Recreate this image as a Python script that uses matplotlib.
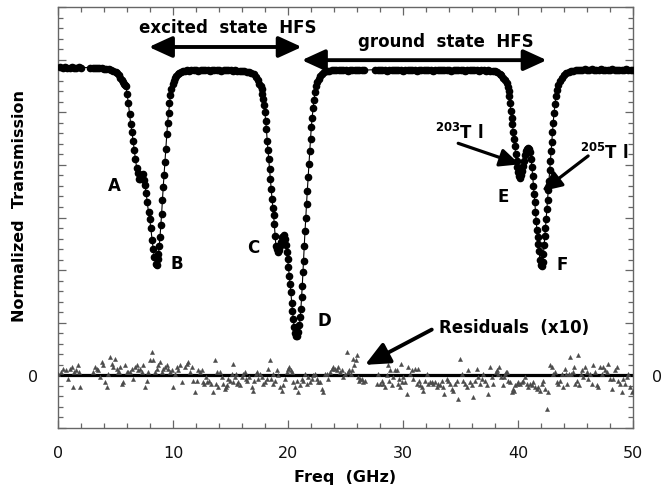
import numpy as np
import matplotlib
matplotlib.use('Agg')
import matplotlib.pyplot as plt
from matplotlib.ticker import MultipleLocator, FuncFormatter

plt.rcParams['font.family'] = ['DejaVu Sans']
plt.rcParams['mathtext.fontset'] = 'dejavusans'

###############################################################################
# Transmission data (freq in GHz, normalized transmission in plot units)
###############################################################################
f_base1 = [0.2, 0.4, 0.6, 0.8, 1.0, 1.2, 1.4, 1.6, 1.8, 2.0,
           2.8, 3.0, 3.2, 3.4, 3.6]
t_base1 = [5.86, 5.85, 5.86, 5.85, 5.84, 5.86, 5.85, 5.84, 5.86, 5.85,
           5.85, 5.84, 5.85, 5.84, 5.84]

f_dip1 = [3.8, 4.0, 4.2, 4.4, 4.6, 4.8, 5.0, 5.15, 5.3, 5.42, 5.54, 5.65, 5.75, 5.83,
          5.91, 6.01, 6.12, 6.22, 6.32, 6.43, 6.53, 6.63, 6.73, 6.84,
          6.94, 7.04, 7.15, 7.25, 7.35, 7.46, 7.56, 7.66, 7.76, 7.87,
          7.97, 8.07, 8.18, 8.28, 8.38, 8.49, 8.58,
          8.66, 8.73, 8.80, 8.87, 8.94, 9.01, 9.08, 9.15, 9.22, 9.29,
          9.37, 9.45, 9.53, 9.61, 9.69, 9.77, 9.86, 9.96, 10.07, 10.18,
          10.30, 10.42, 10.55, 10.70, 10.85, 11.0]
t_dip1 = [5.84, 5.83, 5.83, 5.82, 5.81, 5.79, 5.77, 5.74, 5.70, 5.65, 5.61, 5.57, 5.54, 5.51,
          5.49, 5.34, 5.17, 4.97, 4.78, 4.63, 4.46, 4.28, 4.11, 3.95,
          3.84, 3.74, 3.73, 3.79, 3.82, 3.71, 3.62, 3.47, 3.29, 3.10,
          2.98, 2.80, 2.58, 2.40, 2.25, 2.12, 2.09,
          2.22, 2.30, 2.45, 2.63, 2.85, 3.07, 3.33, 3.58, 3.81, 4.05,
          4.30, 4.58, 4.80, 4.98, 5.17, 5.32, 5.45, 5.54, 5.60, 5.65,
          5.69, 5.72, 5.75, 5.77, 5.79, 5.79]

f_base2 = np.round(np.arange(11.2, 16.41, 0.2), 2)
t_base2 = [5.80, 5.79, 5.80, 5.81, 5.80, 5.79, 5.80, 5.80, 5.81, 5.80,
           5.79, 5.80, 5.81, 5.80, 5.80, 5.79, 5.80, 5.81, 5.80, 5.80,
           5.79, 5.80, 5.79, 5.79, 5.78, 5.78, 5.77]

f_dip2 = [16.6, 16.8, 17.0, 17.2, 17.35, 17.5, 17.62,
          17.71, 17.78, 17.85, 17.92, 17.99, 18.06, 18.12, 18.19, 18.26, 18.33,
          18.40, 18.47, 18.54, 18.61, 18.68, 18.75, 18.81, 18.88, 18.95,
          19.03, 19.12, 19.22, 19.32, 19.42, 19.52, 19.62, 19.72, 19.82, 19.90,
          19.97, 20.04, 20.11, 20.18, 20.25, 20.32, 20.39, 20.46, 20.54, 20.63,
          20.72, 20.82, 20.91, 20.99,
          21.06, 21.12, 21.18, 21.24, 21.30, 21.36, 21.42, 21.48, 21.55, 21.61,
          21.68, 21.75, 21.82, 21.89, 21.96, 22.03, 22.10, 22.18, 22.26, 22.35,
          22.45, 22.56, 22.68, 22.82, 22.98, 23.16, 23.36, 23.58, 23.8]
t_dip2 = [5.77, 5.75, 5.72, 5.67, 5.61, 5.54, 5.50,
          5.45, 5.35, 5.26, 5.13, 5.00, 4.84, 4.69, 4.46, 4.28, 4.12,
          3.92, 3.73, 3.54, 3.35, 3.19, 3.04, 2.88, 2.65, 2.46,
          2.40, 2.34, 2.38, 2.46, 2.54, 2.62, 2.66, 2.60, 2.48, 2.35,
          2.21, 2.05, 1.89, 1.73, 1.58, 1.38, 1.22, 1.07, 0.91, 0.80,
          0.74, 0.74, 0.82, 0.95,
          1.10, 1.26, 1.48, 1.70, 1.96, 2.18, 2.46, 2.75, 3.00, 3.26,
          3.51, 3.77, 4.02, 4.26, 4.50, 4.72, 4.90, 5.08, 5.24, 5.38,
          5.50, 5.58, 5.64, 5.69, 5.73, 5.76, 5.78, 5.79, 5.80]

f_base3 = np.concatenate([np.round(np.arange(24.0, 26.61, 0.2), 2),
                          np.round(np.arange(27.6, 37.21, 0.2), 2)])
t_base3 = [5.80, 5.81, 5.80, 5.80, 5.81, 5.80, 5.79, 5.80, 5.81, 5.80,
           5.80, 5.81, 5.80, 5.80,
           5.81, 5.80, 5.80, 5.81, 5.80, 5.79, 5.80, 5.81, 5.80, 5.80,
           5.81, 5.80, 5.79, 5.80, 5.81, 5.81, 5.80, 5.80, 5.79, 5.80,
           5.81, 5.80, 5.80, 5.81, 5.80, 5.79, 5.80, 5.80, 5.81, 5.80,
           5.80, 5.81, 5.80, 5.79, 5.80, 5.80, 5.81, 5.80, 5.80, 5.79,
           5.80, 5.80, 5.81, 5.80, 5.80, 5.79, 5.80, 5.80, 5.79]

f_dip3 = [37.4, 37.6, 37.8, 38.0, 38.2, 38.4, 38.55, 38.7, 38.85, 39.0, 39.1, 39.18, 39.25,
          39.31, 39.38, 39.45, 39.52, 39.59, 39.66, 39.73, 39.80, 39.87, 39.94,
          40.02, 40.10, 40.18, 40.27, 40.36, 40.45, 40.54, 40.63, 40.72, 40.81,
          40.90, 40.99,
          41.07, 41.14, 41.21, 41.28, 41.34, 41.40, 41.46, 41.52, 41.58, 41.64,
          41.70, 41.76, 41.83, 41.90, 41.98, 42.06, 42.14, 42.21, 42.27, 42.33,
          42.39, 42.45, 42.51, 42.57, 42.63, 42.69, 42.75, 42.81, 42.87, 42.93,
          42.99, 43.06, 43.13, 43.21, 43.30, 43.40, 43.52, 43.66, 43.82, 44.0,
          44.2, 44.4, 44.6, 44.8, 45.0, 45.2, 45.4]
t_dip3 = [5.80, 5.79, 5.79, 5.78, 5.76, 5.73, 5.70, 5.66, 5.61, 5.55, 5.48, 5.40, 5.30,
          5.17, 5.02, 4.89, 4.77, 4.62, 4.50, 4.35, 4.20, 4.08, 3.96,
          3.86, 3.78, 3.75, 3.80, 3.88, 3.98, 4.08, 4.19, 4.27, 4.31,
          4.33, 4.31,
          4.24, 4.12, 3.96, 3.78, 3.60, 3.44, 3.29, 3.11, 2.93, 2.77,
          2.63, 2.50, 2.36, 2.20, 2.09, 2.07, 2.15, 2.30, 2.48, 2.64,
          2.80, 2.98, 3.16, 3.34, 3.52, 3.70, 3.90, 4.08, 4.26, 4.44,
          4.62, 4.80, 4.98, 5.15, 5.30, 5.42, 5.52, 5.60, 5.66, 5.71,
          5.74, 5.77, 5.78, 5.79, 5.80, 5.81, 5.81]

f_base4 = np.round(np.arange(45.6, 50.01, 0.2), 2)
t_base4 = [5.81, 5.82, 5.81, 5.81, 5.82, 5.81, 5.80, 5.81, 5.82, 5.81,
           5.81, 5.80, 5.81, 5.82, 5.81, 5.81, 5.80, 5.81, 5.81, 5.82,
           5.81, 5.80, 5.81]

###############################################################################
# Residuals (x10)
###############################################################################
res_f1 = [0.03, 0.26, 0.46, 0.67, 0.84, 1.04, 1.19, 1.33, 1.42, 1.54,
          1.71, 1.83, 1.91, 3.07, 3.22, 3.36, 3.51, 3.65, 3.80, 3.94,
          4.09, 4.23, 4.38, 4.52, 4.67, 4.81, 4.96, 5.10, 5.19, 5.30,
          5.39, 5.54, 5.68, 5.83, 5.97, 6.12, 6.26, 6.41, 6.55, 6.70,
          6.84, 6.99, 7.13, 7.28, 7.42, 7.57, 7.71, 7.86, 8.00, 8.14,
          8.29, 8.43, 8.58, 8.72, 8.87, 9.01, 9.16, 9.30, 9.45, 9.59,
          9.74, 9.88, 10.03, 10.17, 10.32, 10.46, 10.61, 10.75, 11.04, 11.19,
          11.33, 11.48, 11.62, 11.77, 11.91, 12.06, 12.20, 12.35, 12.49, 12.64,
          12.72]
res_v1 = [0.03, 0.06, 0.13, 0.10, -0.06, 0.13, 0.16, -0.22, 0.06, 0.10,
          0.19, 0.06, -0.22, 0.06, 0.16, 0.13, 0.10, -0.03, 0.25, 0.19,
          -0.13, -0.22, 0.03, 0.35, 0.22, 0.16, 0.32, 0.13, 0.06, 0.06,
          0.16, -0.16, -0.13, 0.19, 0.06, 0.06, 0.06, 0.13, -0.06, 0.16,
          0.19, 0.10, 0.13, 0.06, 0.19, -0.22, -0.10, 0.06, 0.29, 0.44,
          0.29, 0.06, 0.13, 0.19, 0.25, 0.06, 0.13, 0.16, 0.19, 0.13,
          0.06, 0.10, -0.22, 0.03, 0.16, 0.10, 0.19, -0.13, 0.16, 0.22,
          0.25, 0.06, 0.16, -0.10, -0.32, -0.10, 0.10, 0.06, 0.10, -0.13,
          -0.16]
res_f2 = [12.87, 12.99, 13.16, 13.28, 13.45, 13.65, 13.74, 13.86, 13.94, 14.09,
          14.23, 14.38, 14.52, 14.61, 14.73, 14.81, 14.96, 15.10, 15.19, 15.25,
          15.39, 15.48, 15.60, 15.68, 15.83, 15.97, 16.12, 16.26, 16.35, 16.47,
          16.64, 16.84, 16.93, 17.05, 17.22, 17.34, 17.42, 17.57, 17.71, 17.86,
          18.00, 18.15, 18.29, 18.44, 18.52, 18.67, 18.73, 18.87, 19.02, 19.16,
          19.31, 19.45, 19.60, 19.74, 19.89, 20.03, 20.12, 20.23, 20.35, 20.47,
          20.61, 20.76, 20.90, 21.05, 21.19, 21.34, 21.48, 21.63, 21.77, 21.92,
          22.06, 22.20, 22.35, 22.49, 22.64, 22.78, 22.93, 23.07, 23.22, 23.36,
          23.51, 23.65, 23.80, 23.94, 24.09, 24.23, 24.38, 24.52, 24.67, 24.81,
          24.96, 25.10, 25.25, 25.34]
res_v2 = [-0.03, -0.13, -0.10, -0.16, -0.32, 0.29, -0.16, 0.06, -0.22, 0.06,
          -0.03, -0.16, -0.25, -0.22, -0.19, -0.06, -0.10, 0.03, 0.22, -0.13,
          -0.03, 0.03, -0.16, -0.13, -0.19, -0.03, 0.03, 0.06, -0.06, -0.10,
          -0.03, -0.22, -0.29, -0.10, 0.03, 0.06, -0.06, 0.03, -0.03, -0.16,
          -0.13, -0.06, 0.13, 0.29, -0.06, -0.16, 0.03, -0.10, 0.10, 0.00,
          -0.22, -0.29, -0.19, -0.06, 0.06, 0.13, 0.16, 0.10, 0.06, -0.13,
          -0.22, -0.10, -0.32, -0.19, -0.06, -0.10, 0.03, -0.16, -0.03, -0.13,
          -0.06, 0.00, 0.03, -0.06, -0.13, -0.13, -0.25, -0.32, 0.03, 0.03,
          -0.06, 0.06, 0.13, 0.16, 0.13, 0.10, 0.16, 0.06, 0.10, -0.03,
          0.03, 0.44, 0.06, 0.10]
res_f3 = [25.48, 25.60, 25.68, 25.77, 25.89, 25.97, 26.06, 26.18, 26.26, 26.41,
          26.55, 26.70, 27.71, 27.86, 28.00, 28.15, 28.29, 28.44, 28.58, 28.67,
          28.79, 28.87, 29.02, 29.16, 29.31, 29.45, 29.54, 29.66, 29.74, 29.83,
          29.95, 30.03, 30.18, 30.32, 30.47, 30.61, 30.76, 30.90, 31.05, 31.19,
          31.28, 31.39, 31.48, 31.63, 31.77, 31.92, 32.06, 32.21, 32.35, 32.50,
          32.64, 32.79, 32.93, 33.08, 33.22, 33.37, 33.51, 33.60, 33.80, 33.95,
          34.09, 34.24, 34.38, 34.53, 34.67, 34.82, 34.96, 35.10, 35.25, 35.39,
          35.54, 35.68, 35.83, 35.97, 36.12, 36.26, 36.41, 36.55, 36.70, 36.84,
          36.99, 37.13, 37.28, 37.42, 37.57, 37.71, 37.86]
res_v3 = [0.03, 0.10, 0.32, 0.19, 0.29, 0.38, -0.03, -0.10, -0.06, -0.06,
          -0.13, -0.10, -0.16, 0.03, -0.16, -0.10, -0.16, -0.22, 0.00, 0.19,
          -0.10, 0.10, -0.19, -0.03, 0.10, 0.10, -0.16, -0.06, -0.22, 0.22,
          -0.13, -0.03, -0.13, -0.35, 0.16, 0.03, 0.10, -0.06, 0.13, -0.16,
          0.13, -0.10, -0.19, -0.22, -0.29, -0.10, 0.03, -0.16, -0.13, -0.13,
          -0.16, -0.13, -0.22, -0.16, -0.19, -0.10, -0.22, -0.35, -0.06, -0.10,
          -0.16, -0.25, -0.29, -0.16, -0.10, -0.44, 0.32, 0.03, -0.10, -0.16,
          -0.22, 0.10, -0.13, -0.19, -0.41, -0.10, 0.13, -0.03, -0.16, -0.06,
          0.03, -0.10, -0.19, -0.35, 0.16, -0.03, -0.16]
res_f4 = [38.09, 38.21, 38.29, 38.38, 38.50, 38.67, 38.79, 38.87, 38.96, 39.08,
          39.16, 39.31, 39.45, 39.54, 39.66, 39.74, 39.89, 40.03, 40.18, 40.32,
          40.47, 40.61, 40.76, 40.90, 41.05, 41.19, 41.34, 41.48, 41.63, 41.77,
          41.92, 42.06, 42.21, 42.35, 42.50, 42.64, 42.79, 42.93, 43.08, 43.22,
          43.37, 43.51, 43.66, 43.80, 43.95, 44.09, 44.18, 44.29, 44.41, 44.53,
          44.64, 44.76, 44.87, 44.99, 45.11, 45.25, 45.34, 45.45, 45.54, 45.69,
          45.83, 45.98, 46.12, 46.27, 46.41, 46.56, 46.70, 46.85, 46.99, 47.14,
          47.28, 47.43, 47.57, 47.72, 47.86, 48.01, 48.15, 48.29, 48.44, 48.58,
          48.73, 48.87, 49.02, 49.16, 49.31, 49.45, 49.60, 49.74, 49.89, 49.98]
res_v4 = [0.06, 0.10, 0.03, 0.16, -0.03, -0.19, -0.03, 0.03, 0.06, 0.06,
          -0.10, -0.13, -0.32, -0.25, -0.29, -0.19, -0.16, -0.13, -0.16, -0.13,
          -0.10, -0.03, -0.16, -0.22, -0.16, -0.19, -0.13, -0.22, -0.25, -0.22,
          -0.29, -0.16, -0.10, -0.25, -0.63, -0.32, 0.19, 0.16, 0.03, 0.06,
          -0.13, -0.16, -0.10, 0.03, -0.22, 0.13, 0.03, -0.16, 0.03, 0.35,
          0.03, 0.06, 0.16, -0.16, -0.10, 0.38, -0.19, 0.03, 0.10, -0.03,
          0.16, 0.06, -0.06, 0.03, -0.16, 0.19, 0.06, -0.19, -0.22, 0.16,
          0.03, 0.16, 0.10, 0.06, 0.22, -0.06, -0.25, -0.06, 0.10, 0.16,
          -0.10, -0.16, -0.32, -0.06, -0.16, -0.03, 0.03, -0.22, -0.32, -0.29]

freq = np.concatenate([f_base1, f_dip1, f_base2, f_dip2, f_base3, f_dip3, f_base4])
trans = np.concatenate([t_base1, t_dip1, t_base2, t_dip2, t_base3, t_dip3, t_base4])
resF = np.concatenate([res_f1, res_f2, res_f3, res_f4])
resV = np.concatenate([res_v1, res_v2, res_v3, res_v4])

###############################################################################
# Plot
###############################################################################
(W, H) = (663, 489)
fig = plt.figure(figsize=(W/100, H/100), dpi=100)
ax = fig.add_axes([58/W, 1-429/H, 575/W, 421/H])
ax.axhline(0, color='black', lw=2.3, zorder=2)
ax.plot(resF, resV, ls='none', marker='^', ms=3.0, color='#4a4a4a',
        mec='#4a4a4a', mew=0.3, zorder=3)
ax.plot(freq, trans, color='black', lw=0.8, marker='o', ms=4.5, zorder=4)
ax.set_xlim(0, 50)
ax.set_ylim(-1, 7)
# Ticks -----------------------------------------------------------------------
ax.xaxis.set_major_locator(MultipleLocator(10))
ax.xaxis.set_minor_locator(MultipleLocator(2))
ax.yaxis.set_major_locator(MultipleLocator(1))
ax.yaxis.set_minor_locator(MultipleLocator(0.2))
ax.yaxis.set_major_formatter(FuncFormatter(lambda v, p: '0' if abs(v) < 1e-9 else ''))
ax.tick_params(which='both', direction='in', top=True, right=True,
               color='#666666', width=0.9)
ax.tick_params(which='major', length=6)
ax.tick_params(which='minor', length=3.5)
ax.tick_params(axis='x', labelsize=11.5, pad=12, labelcolor='#111111')
ax.tick_params(axis='y', labelsize=11.5, pad=14, labelright=True,
               labelcolor='#111111')
for sp in ax.spines.values():
    sp.set_color('#666666')
    sp.set_linewidth(1.0)
ax.set_xlabel('Freq  (GHz)', fontsize=11.5, fontweight='bold')
ax.xaxis.set_label_coords(0.5, -0.098)
ax.set_ylabel('Normalized  Transmission', fontsize=11.5, fontweight='bold')
ax.yaxis.set_label_coords(-0.054, 0.53)
# Annotations -----------------------------------------------------------------
bold = dict(fontsize=12, fontweight='bold', ha='center', va='center')
ax.text(14.8, 6.62, 'excited  state  HFS', **bold)
ax.text(33.7, 6.36, 'ground  state  HFS', **bold)
big = dict(arrowstyle='<|-|>,head_length=0.7,head_width=0.32',
           mutation_scale=20, lw=2.8, color='black', shrinkA=0, shrinkB=0)
ax.annotate('', xy=(7.9, 6.24), xytext=(21.2, 6.24), arrowprops=big)
ax.annotate('', xy=(21.2, 5.99), xytext=(42.5, 5.99), arrowprops=big)
for (lab, x, y) in [('A', 4.87, 3.61), ('B', 10.32, 2.13), ('C', 16.98, 2.43),
                    ('D', 23.2, 1.06), ('E', 38.67, 3.41), ('F', 43.8, 2.11)]:
    ax.text(x, y, lab, **bold)
ax.text(34.9, 4.62, r'$^{\mathbf{203}}$T l', **bold)
ax.text(47.5, 4.24, r'$^{\mathbf{205}}$T l', **bold)
small = dict(arrowstyle='-|>,head_length=0.7,head_width=0.32', mutation_scale=17,
             lw=2.3, color='black', shrinkA=0, shrinkB=0)
ax.annotate('', xy=(40.15, 4.01), xytext=(34.8, 4.41), arrowprops=small)
ax.annotate('', xy=(42.1, 3.50), xytext=(46.1, 4.17), arrowprops=small)
ax.text(39.7, 0.91, 'Residuals  (x10)', **bold)
ax.annotate('', xy=(26.7, 0.20), xytext=(32.5, 0.87),
            arrowprops=dict(arrowstyle='-|>,head_length=0.7,head_width=0.32',
                            mutation_scale=21, lw=2.8, color='black',
                            shrinkA=0, shrinkB=0))
fig.savefig('out.png', dpi=100)
plt.close('all')
